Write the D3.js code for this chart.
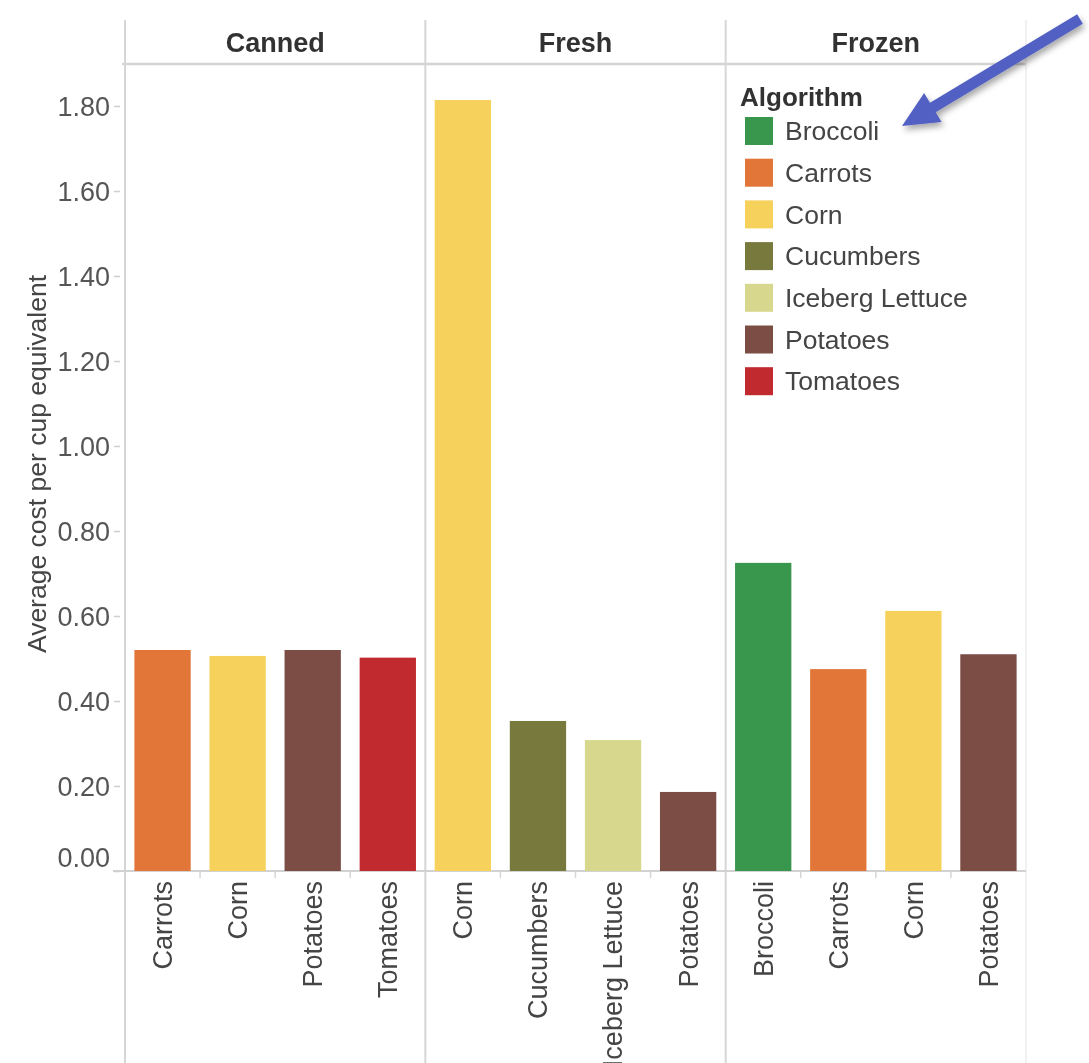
<!DOCTYPE html>
<html><head><meta charset="utf-8">
<script src="https://cdn.jsdelivr.net/npm/d3@7"></script>
<style>
html,body{margin:0;padding:0;background:#fff;}
svg{display:block;font-family:"Liberation Sans",Arial,sans-serif;}
</style></head>
<body>
<svg id="chart" width="1089" height="1063"></svg>
<script>
const categories = ["Canned", "Fresh", "Frozen"];
const cannedItems = ["Carrots", "Corn", "Potatoes", "Tomatoes"];
const cannedValues = [0.52, 0.506, 0.52, 0.502];
const freshItems = ["Corn", "Cucumbers", "Iceberg Lettuce", "Potatoes"];
const freshValues = [1.814, 0.353, 0.308, 0.186];
const frozenItems = ["Broccoli", "Carrots", "Corn", "Potatoes"];
const frozenValues = [0.725, 0.475, 0.612, 0.51];
const legendTitle = "Algorithm";
const legendItems = ["Broccoli", "Carrots", "Corn", "Cucumbers", "Iceberg Lettuce", "Potatoes", "Tomatoes"];
const legendColors = ["#37964d", "#e27537", "#f6d15b", "#787a3c", "#d7d78d", "#7b4e45", "#c1292f"];
const yTicks = [0, 0.2, 0.4, 0.6, 0.8, 1.0, 1.2, 1.4, 1.6, 1.8];
const yTitle = "Average cost per cup equivalent";

(function () {
const panels = [
  {name: categories[0], items: cannedItems, values: cannedValues},
  {name: categories[1], items: freshItems, values: freshValues},
  {name: categories[2], items: frozenItems, values: frozenValues}
];

const svg = d3.select("#chart");
const defs = svg.append("defs");
const blur = defs.append("filter").attr("id","soft").attr("x","-5%").attr("y","-5%").attr("width","110%").attr("height","110%");
blur.append("feGaussianBlur").attr("stdDeviation", 0.7);
const sh = defs.append("filter").attr("id","shadow").attr("x","-20%").attr("y","-20%").attr("width","140%").attr("height","140%");
sh.append("feDropShadow").attr("dx",2).attr("dy",4).attr("stdDeviation",3).attr("flood-color","#000").attr("flood-opacity",0.35);

const root = svg.append("g").attr("filter","url(#soft)");

const topEdge = 20, headerBottom = 64, bottomEdge = 1063;
const color = d3.scaleOrdinal().domain(legendItems).range(legendColors);
const xPanel = d3.scaleBand().domain(categories).range([125, 1026]);
const y = d3.scaleLinear().domain([0, 1.9]).range([871, 63.5]);

root.append("line").attr("x1", 122).attr("x2", 1026).attr("y1", headerBottom).attr("y2", headerBottom)
  .attr("stroke", "#d4d4d4").attr("stroke-width", 2.5);

categories.forEach((c) => {
  root.append("line").attr("x1", xPanel(c)).attr("x2", xPanel(c)).attr("y1", topEdge).attr("y2", bottomEdge)
    .attr("stroke", "#d6d6d6").attr("stroke-width", 2);
});
root.append("line").attr("x1", 1026).attr("x2", 1026).attr("y1", topEdge).attr("y2", bottomEdge)
  .attr("stroke", "#ededed").attr("stroke-width", 1.5);

root.append("line").attr("x1", 113).attr("x2", 1026).attr("y1", y(0)).attr("y2", y(0))
  .attr("stroke", "#d2d2d2").attr("stroke-width", 2);

root.selectAll("text.header").data(categories).join("text").attr("class", "header")
  .attr("x", d => xPanel(d) + xPanel.bandwidth() / 2).attr("y", 43)
  .attr("dy", "0.35em").attr("text-anchor", "middle")
  .attr("font-size", 27).attr("font-weight", "bold").attr("fill", "#333").text(d => d);

const yAxis = root.append("g").attr("transform", "translate(120,0)")
  .call(d3.axisLeft(y).tickValues(yTicks).tickFormat(d3.format(".2f")).tickSize(6).tickPadding(4));
yAxis.select(".domain").remove();
yAxis.selectAll(".tick line").attr("stroke", "#cfcfcf").attr("stroke-width", 1.5);
yAxis.selectAll(".tick text").attr("font-size", 27).attr("fill", "#555")
  .attr("font-family", "'Liberation Sans',Arial,sans-serif")
  .attr("dy", d => d === 0 ? "-0.15em" : "0.35em");

root.append("text").attr("transform", "translate(37,464) rotate(-90)")
  .attr("text-anchor", "middle").attr("dy", "0.35em")
  .attr("font-size", 26.5).attr("fill", "#444")
  .text(yTitle);

panels.forEach(p => {
  const x0 = xPanel(p.name);
  const xb = d3.scaleBand().domain(p.items).range([0, xPanel.bandwidth()]).paddingInner(0.25).paddingOuter(0.125);
  const g = root.append("g").attr("transform", `translate(${x0},0)`);
  const data = p.items.map((k, i) => ({k, v: p.values[i]}));
  g.selectAll("rect").data(data).join("rect")
    .attr("x", d => xb(d.k)).attr("width", xb.bandwidth())
    .attr("y", d => y(d.v)).attr("height", d => y(0) - y(d.v))
    .attr("fill", d => color(d.k));
  g.selectAll("line.sep").data(p.items.slice(1)).join("line").attr("class","sep")
    .attr("x1", d => xb(d) - xb.step() * xb.paddingInner() / 2).attr("x2", d => xb(d) - xb.step() * xb.paddingInner() / 2)
    .attr("y1", y(0)).attr("y2", y(0) + 7).attr("stroke", "#d6d6d6").attr("stroke-width", 1.5);
  g.selectAll("text.xl").data(data).join("text").attr("class","xl")
    .attr("transform", d => `translate(${xb(d.k) + xb.bandwidth() / 2},${y(0) + 10}) rotate(-90)`)
    .attr("text-anchor", "end").attr("dy", "0.35em")
    .attr("font-size", 27).attr("fill", "#444").text(d => d.k);
});

const lg = root.append("g").attr("transform", "translate(740,97)");
lg.append("text").attr("x", 0).attr("y", 0).attr("dy", "0.35em")
  .attr("font-size", 26).attr("font-weight", "bold").attr("fill", "#333").text(legendTitle);
const rows = lg.selectAll("g.row").data(legendItems).join("g").attr("class", "row")
  .attr("transform", (d, i) => `translate(0,${34 + i * 41.7})`);
rows.append("rect").attr("x", 5).attr("y", -14).attr("width", 28).attr("height", 28).attr("fill", d => color(d));
rows.append("text").attr("x", 45).attr("y", 0).attr("dy", "0.35em")
  .attr("font-size", 26.5).attr("fill", "#444").text(d => d);

const tail = [1080, 19], tip = [902, 126];
const dx = tip[0] - tail[0], dy = tip[1] - tail[1];
const L = Math.hypot(dx, dy), ux = dx / L, uy = dy / L, nx = -uy, ny = ux;
const sw = 5.5, hl = 36, hw = 17;
const bx = tip[0] - ux * hl, by = tip[1] - uy * hl;
const pts = [
  [tail[0] + nx * sw, tail[1] + ny * sw],
  [bx + nx * sw, by + ny * sw],
  [bx + nx * hw, by + ny * hw],
  tip,
  [bx - nx * hw, by - ny * hw],
  [bx - nx * sw, by - ny * sw],
  [tail[0] - nx * sw, tail[1] - ny * sw]
];
root.append("path").attr("d", d3.line()(pts) + "Z").attr("fill", "#5261c3").attr("filter", "url(#shadow)");
})();
</script>
</body></html>
